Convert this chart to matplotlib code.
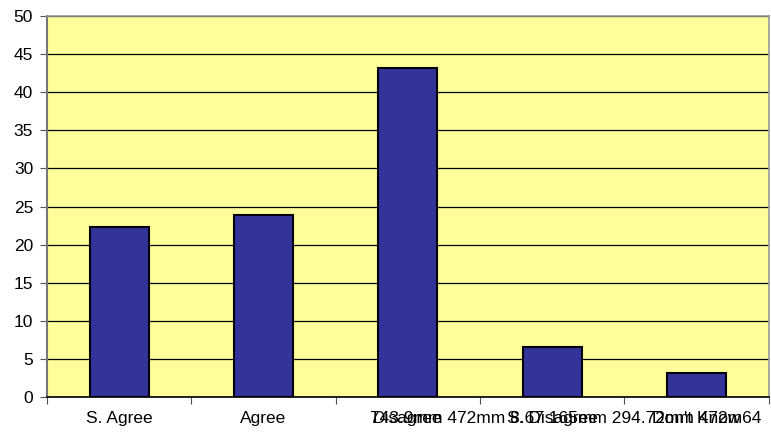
import matplotlib
matplotlib.use("Agg")
import matplotlib.pyplot as plt
import numpy as np

plt.rcParams['font.family'] = ['Liberation Sans', 'DejaVu Sans']

categories = ['S. Agree', 'Agree', 'Disagree', 'S. Disagree', "Don't Know"]
values = [22.3, 23.9, 43.2, 6.6, 3.2]
# stray text that overlaps the last three labels in the original
stray_label = '743.9mm 472mm 8.67 165mm 294.72mm 472m64'

fig = plt.figure(figsize=(7.71, 4.36), dpi=100)
ax = fig.add_axes([0.061, 0.0894, 0.936, 0.8736])
ax.set_facecolor('#FFFF99')

x = np.arange(len(categories))
ax.bar(x, values, width=0.41, color='#333399', edgecolor='black', linewidth=1.5, zorder=3)

ax.set_xlim(-0.5, len(categories) - 0.5)
ax.set_ylim(0, 50)
ax.set_yticks(np.arange(0, 51, 5))
ax.yaxis.grid(True, color='black', linewidth=0.9, zorder=1)
ax.set_axisbelow(True)

# ticks at category boundaries, labels at centres
ax.set_xticks(np.arange(-0.5, len(categories), 1.0))
ax.set_xticklabels([])
ax.tick_params(axis='x', length=5, width=0.8, color='#555555', direction='out')
ax.tick_params(axis='y', length=5, width=0.8, color='#555555', labelsize=12.5, pad=5)

for i, lab in enumerate(categories):
    ax.text(i, -1.9, lab, ha='center', va='top', fontsize=12.5)
ax.text(1.74, -1.9, stray_label, ha='left', va='top', fontsize=12.5)

for s in ['top', 'right']:
    ax.spines[s].set_color('#999999')
    ax.spines[s].set_linewidth(1.2)
ax.spines['left'].set_color('#777777')
ax.spines['left'].set_linewidth(1.5)
ax.spines['bottom'].set_color('black')
ax.spines['bottom'].set_linewidth(1.2)

fig.savefig('out.png', dpi=100)
